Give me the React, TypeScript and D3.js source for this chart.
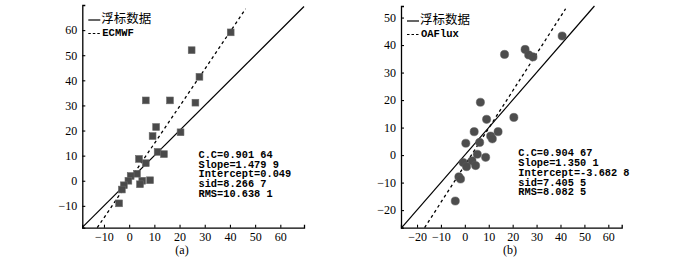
import React, { useEffect, useRef } from 'react';
import * as d3 from 'd3';

// Panel (a): buoy vs ECMWF
const buoyA = [40.3, 24.8, 27.9, 6.6, 16.2, 26.3, 10.7, 9.3, 20.4, 3.9, 6.6, 11.3, 13.8, 3.1, 0.6, -0.3, 5.2, 4.3, 8.3, -2.1, -2.9, -4.0];
const ecmwf = [59.1, 52.0, 41.4, 32.0, 32.0, 31.1, 21.4, 17.8, 19.3, 8.7, 7.0, 11.5, 10.6, 2.8, 1.9, 0.0, 0.0, -1.4, 0.2, -1.8, -3.5, -9.0];
// Panel (b): buoy vs OAFlux
const buoyB = [40.7, 16.6, 25.2, 26.7, 28.5, 6.5, 9.1, 20.5, 3.9, 13.9, 0.4, 6.2, 10.8, 11.5, 5.2, 8.7, -0.7, 3.0, 0.7, 4.5, -2.5, -1.8, -4.0];
const oaflux = [43.3, 36.6, 38.4, 36.4, 35.7, 19.2, 13.0, 13.7, 8.5, 8.5, 4.3, 4.6, 6.9, 5.9, 0.3, -0.8, -2.7, -2.1, -4.2, -3.8, -7.9, -8.7, -16.7];

const ticksAX = [-10, 0, 10, 20, 30, 40, 50, 60];
const ticksAY = [-10, 0, 10, 20, 30, 40, 50, 60];
const ticksBX = [-20, -10, 0, 10, 20, 30, 40, 50, 60];
const ticksBY = [-20, -10, 0, 10, 20, 30, 40, 50];

const fitA = [1.4799, 0.049];
const fitB = [1.3501, -3.6828];

const statsA = ['C.C=0.901 64', 'Slope=1.479 9', 'Intercept=0.049', 'sid=8.266 7', 'RMS=10.638 1'];
const statsB = ['C.C=0.904 67', 'Slope=1.350 1', 'Intercept=-3.682 8', 'sid=7.405 5', 'RMS=8.082 5'];

const legendSolid = '浮标数据';

interface PanelProps {
  xs: number[];
  ys: number[];
  xDomain: [number, number];
  yDomain: [number, number];
  xRange: [number, number];
  yRange: [number, number];
  xTicks: number[];
  yTicks: number[];
  fit: number[];
  fitTop: number;
  stats: string[];
  statsPos: [number, number];
  name: string;
  marker: 'square' | 'circle';
  label: string;
  labelX: number;
}

const Panel: React.FC<PanelProps> = (p) => {
  const xRef = useRef<SVGGElement>(null);
  const yRef = useRef<SVGGElement>(null);
  const x = d3.scaleLinear().domain(p.xDomain).range(p.xRange);
  const y = d3.scaleLinear().domain(p.yDomain).range(p.yRange);

  useEffect(() => {
    const gx = d3.select(xRef.current!);
    gx.selectAll('*').remove();
    gx.call(d3.axisBottom(x).tickValues(p.xTicks).tickSizeInner(-3).tickSizeOuter(-3).tickPadding(5));
    const gy = d3.select(yRef.current!);
    gy.selectAll('*').remove();
    gy.call(d3.axisLeft(y).tickValues(p.yTicks).tickSizeInner(-3).tickSizeOuter(-3).tickPadding(5));
    [gx, gy].forEach((g) => {
      g.selectAll('path').attr('stroke', '#000').attr('stroke-width', 1.3);
      g.selectAll('line').attr('stroke', '#000').attr('stroke-width', 1.1);
      g.selectAll('text')
        .attr('font-family', '"Liberation Serif", serif')
        .attr('font-size', 12)
        .attr('fill', '#000');
    });
  });

  const lo = Math.max(p.xDomain[0], p.yDomain[0]);
  const hi = Math.min(p.xDomain[1], p.yDomain[1]);
  const [slope, icpt] = p.fit;
  const fx0 = (p.yDomain[0] - icpt) / slope;
  const fx1 = (p.fitTop - icpt) / slope;

  const lx0 = p.xRange[0] + 6;
  const lx1 = lx0 + 12;
  const ly0 = p.yRange[1] + 15;
  const ly1 = ly0 + 13.5;

  return (
    <g>
      <line x1={x(lo)} y1={y(lo)} x2={x(hi)} y2={y(hi)} stroke="#000" strokeWidth={1.2} />
      <line x1={x(fx0)} y1={y(p.yDomain[0])} x2={x(fx1)} y2={y(p.fitTop)} stroke="#000" strokeWidth={1.3} strokeDasharray="3,3" />
      {p.xs.map((v, i) =>
        p.marker === 'square' ? (
          <rect key={i} x={x(v) - 3.4} y={y(p.ys[i]) - 3.4} width={6.8} height={6.8} fill="#4a4a4a" stroke="#6a6a6a" strokeWidth={0.6} />
        ) : (
          <circle key={i} cx={x(v)} cy={y(p.ys[i])} r={4.1} fill="#4d4d4d" stroke="#5a5a5a" strokeWidth={0.5} />
        )
      )}
      <g ref={xRef} transform={`translate(0,${p.yRange[0]})`} />
      <g ref={yRef} transform={`translate(${p.xRange[0]},0)`} />
      <line x1={lx0} x2={lx1} y1={ly0} y2={ly0} stroke="#000" strokeWidth={1.2} />
      <text x={lx1 + 1} y={ly0} dominantBaseline="middle" fontFamily='"Noto Sans CJK SC", sans-serif' fontSize={12.5}>{legendSolid}</text>
      <line x1={lx0} x2={lx1} y1={ly1} y2={ly1} stroke="#000" strokeWidth={1.2} strokeDasharray="2.5,2" />
      <text x={lx1 + 2} y={ly1} dominantBaseline="middle" fontFamily='"Liberation Mono", monospace' fontWeight="bold" fontSize={10.5}>{p.name}</text>
      {p.stats.map((s, i) => (
        <text key={i} x={p.statsPos[0]} y={p.statsPos[1] + i * 9.8} dominantBaseline="middle" fontFamily='"Liberation Mono", monospace' fontWeight="bold" fontSize={10.3} xmlSpace="preserve">{s}</text>
      ))}
      <text x={p.labelX} y={251} textAnchor="middle" dominantBaseline="middle" fontFamily='"Liberation Serif", serif' fontSize={12}>{p.label}</text>
    </g>
  );
};

export default function App() {
  return (
    <svg width={700} height={258} style={{ position: 'absolute', left: 0, top: 0, background: '#fff' }}>
      <rect width={700} height={258} fill="#fff" />
      <Panel xs={buoyA} ys={ecmwf} xDomain={[-18.6, 69.4]} yDomain={[-18.7, 70]} xRange={[82.3, 304]} yRange={[227.7, 5]}
        xTicks={ticksAX} yTicks={ticksAY} fit={fitA} fitTop={68.5} stats={statsA} statsPos={[198.5, 155]} name="ECMWF" marker="square" label="(a)" labelX={182} />
      <Panel xs={buoyB} ys={oaflux} xDomain={[-26.7, 65.6]} yDomain={[-26.4, 54.2]} xRange={[401, 621.7]} yRange={[227.7, 6]}
        xTicks={ticksBX} yTicks={ticksBY} fit={fitB} fitTop={53.2} stats={statsB} statsPos={[518.3, 153.5]} name="OAFlux" marker="circle" label="(b)" labelX={510} />
    </svg>
  );
}
